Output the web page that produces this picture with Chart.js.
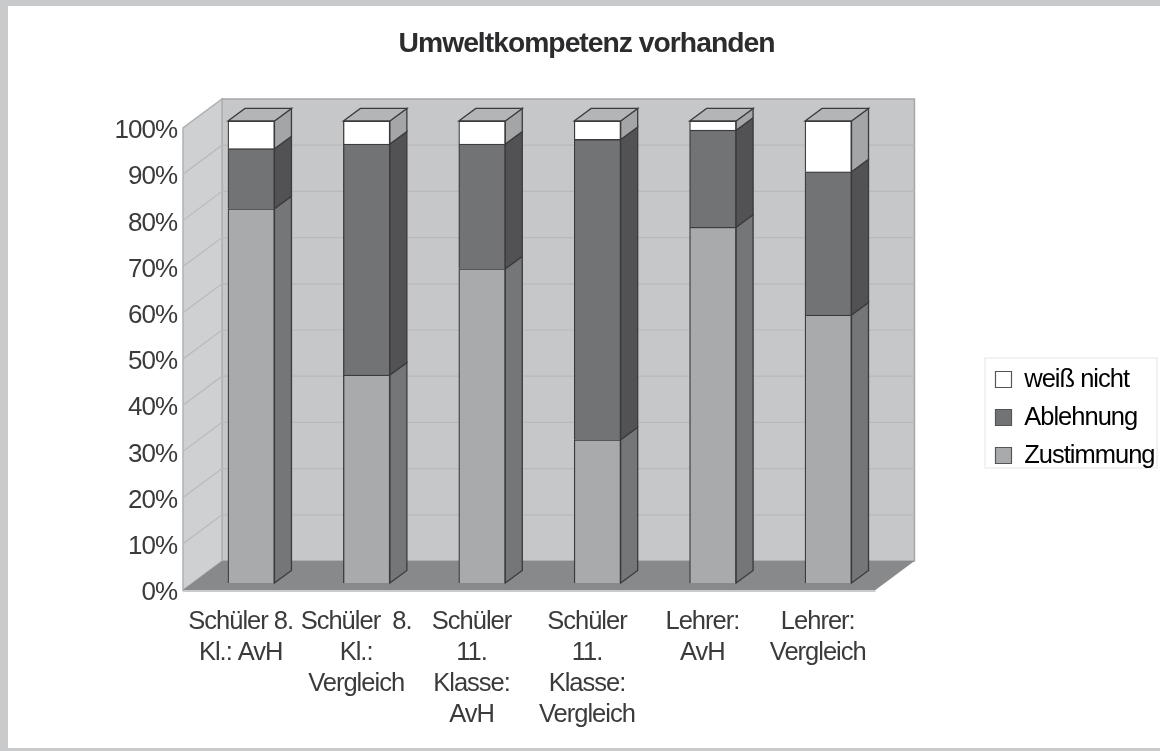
<!DOCTYPE html>
<html lang="de">
<head>
<meta charset="utf-8">
<style>
html,body{margin:0;padding:0;background:#c9cacc;width:1160px;height:751px;overflow:hidden}
#paper{position:absolute;left:8px;top:6px;right:0;bottom:3px;background:#fff}
canvas{position:absolute;left:0;top:0;filter:blur(0.6px)}
</style>
<script src="https://cdn.jsdelivr.net/npm/chart.js@4"></script>
</head>
<body>
<div id="paper"></div>
<canvas id="c" width="1160" height="751"></canvas>
<script>
const categories = [
  ["Schüler 8.", "Kl.: AvH"],
  ["Schüler  8.", "Kl.:", "Vergleich"],
  ["Schüler", "11.", "Klasse:", "AvH"],
  ["Schüler", "11.", "Klasse:", "Vergleich"],
  ["Lehrer:", "AvH"],
  ["Lehrer:", "Vergleich"]
];
const zustimmung = [81, 45, 68, 31, 77, 58];
const ablehnung  = [13, 50, 27, 65, 21, 31];
const weissNicht = [6, 5, 5, 4, 2, 11];
const titleText = "Umweltkompetenz vorhanden";

const ink = "#3b3b3d";
const wall = {dx: 39, dy: -29};
const barShift = {dx: 10.5, dy: -7};
const barDepth = {dx: 17, dy: -12.5};
const sideColors = ["#757678", "#525254", "#a4a5a7"];
const topColor = "#b4b5b7";
const tightText = "-1px";

function poly(ctx, pts, fill, stroke, lw) {
  ctx.beginPath();
  pts.forEach((p, i) => i ? ctx.lineTo(p[0], p[1]) : ctx.moveTo(p[0], p[1]));
  ctx.closePath();
  if (fill) { ctx.fillStyle = fill; ctx.fill(); }
  if (stroke) { ctx.strokeStyle = stroke; ctx.lineWidth = lw || 1; ctx.stroke(); }
}

const threeD = {
  id: "threeD",
  beforeLayout(chart) { chart.ctx.letterSpacing = tightText; },
  afterLayout(chart) {
    const l = chart.legend;
    const dx = 983 - l.left, dy = 42;
    l.left += dx; l.right += dx; l.top += dy; l.bottom += dy;
    const t = chart.titleBlock;
    t.left += 58; t.right += 58;
  },
  beforeDraw(chart) {
    const {ctx} = chart;
    ctx.letterSpacing = tightText;
    ctx.save();
    ctx.strokeStyle = "#eeeeef"; ctx.lineWidth = 1.5;
    ctx.strokeRect(985, 358, 172, 110);
    ctx.restore();
  },
  beforeDatasetsDraw(chart) {
    const {ctx, chartArea: a, scales: {y}} = chart;
    const {dx, dy} = wall;
    ctx.save();
    // back wall, side wall, floor
    poly(ctx, [[a.left + dx, a.top + dy], [a.right + dx, a.top + dy], [a.right + dx, a.bottom + dy], [a.left + dx, a.bottom + dy]], "#c6c7c9", "#a6a7a9", 1.5);
    poly(ctx, [[a.left, a.top], [a.left + dx, a.top + dy], [a.left + dx, a.bottom + dy], [a.left, a.bottom]], "#ced0d2", "#b0b1b3", 1.5);
    y.ticks.forEach(t => {
      const py = y.getPixelForValue(t.value);
      if (t.value > 0 && t.value < 100) {
        ctx.strokeStyle = "#b8b9bb"; ctx.lineWidth = 1.2;
        ctx.beginPath();
        ctx.moveTo(a.left, py); ctx.lineTo(a.left + dx, py + dy); ctx.lineTo(a.right + dx, py + dy);
        ctx.stroke();
      }
    });
    poly(ctx, [[a.left, a.bottom], [a.right, a.bottom], [a.right + dx, a.bottom + dy], [a.left + dx, a.bottom + dy]], "#88898b", null);
    ctx.strokeStyle = "#b9babc"; ctx.lineWidth = 1.5;
    ctx.beginPath(); ctx.moveTo(a.left, a.bottom + 1); ctx.lineTo(a.right, a.bottom + 1); ctx.stroke();

    // depth faces of the bars, then the fronts with the same shift
    ctx.translate(barShift.dx, barShift.dy);
    const d = barDepth;
    chart.data.datasets.forEach((ds, i) => {
      chart.getDatasetMeta(i).data.forEach((b) => {
        const r = b.x + b.width / 2, l = b.x - b.width / 2;
        poly(ctx, [[r, b.y], [r + d.dx, b.y + d.dy], [r + d.dx, b.base + d.dy], [r, b.base]], sideColors[i], ink, 1.3);
        if (i === chart.data.datasets.length - 1) {
          poly(ctx, [[l, b.y], [l + d.dx, b.y + d.dy], [r + d.dx, b.y + d.dy], [r, b.y]], topColor, ink, 1.3);
        }
      });
    });
  },
  afterDatasetsDraw(chart) {
    chart.ctx.restore();
  }
};

new Chart(document.getElementById("c").getContext("2d"), {
  type: "bar",
  plugins: [threeD],
  data: {
    labels: categories,
    datasets: [
      {label: "Zustimmung", data: zustimmung, backgroundColor: "#a9aaac"},
      {label: "Ablehnung", data: ablehnung, backgroundColor: "#727375"},
      {label: "weiß nicht", data: weissNicht, backgroundColor: "#ffffff"}
    ].map(d => Object.assign(d, {borderColor: ink, borderWidth: 1.3, barThickness: 46.5}))
  },
  options: {
    responsive: false,
    animation: false,
    layout: {padding: {right: 103, left: 0, top: 0, bottom: 0}},
    scales: {
      x: {
        stacked: true,
        grid: {display: false},
        border: {display: false},
        afterFit(s) { s.height = 161; },
        ticks: {
          autoSkip: false, maxRotation: 0, minRotation: 0, padding: 9,
          color: ink,
          font: {family: "'Liberation Sans'", size: 25.5, lineHeight: 1.21}
        }
      },
      y: {
        stacked: true,
        min: 0, max: 100,
        afterFit(s) { s.width = 183; },
        grid: {display: false, drawTicks: false},
        border: {display: false},
        ticks: {
          stepSize: 10, padding: 6, color: ink, labelOffset: 3,
          callback: v => v + "%",
          font: {family: "'Liberation Sans'", size: 26}
        }
      }
    },
    plugins: {
      tooltip: {enabled: false},
      title: {
        display: true, text: titleText, color: "#2c2c2e",
        font: {family: "'Liberation Sans'", size: 28.3, weight: "bold", lineHeight: 1.2},
        padding: {top: 27, bottom: 67}
      },
      legend: {
        display: true, position: "right", reverse: true,
        labels: {
          boxWidth: 16, boxHeight: 16, padding: 12.5, color: ink,
          font: {family: "'Liberation Sans'", size: 25.5},
          generateLabels(chart) {
            return chart.data.datasets.map((d, i) => ({
              text: d.label, fillStyle: d.backgroundColor, strokeStyle: "#555557",
              lineWidth: 1.2, datasetIndex: i, hidden: false
            }));
          }
        }
      }
    }
  }
});
</script>
</body>
</html>
